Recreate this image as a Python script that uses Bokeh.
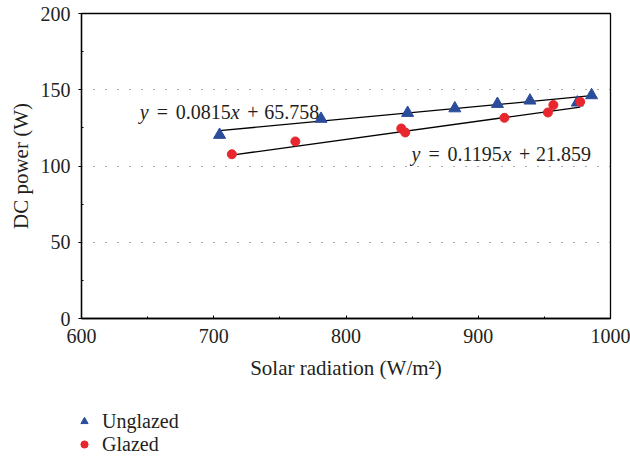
from bokeh.plotting import figure
from bokeh.layouts import column
from bokeh.models import Range1d, FixedTicker, Label, Legend, LegendItem
from bokeh.embed import file_html
from bokeh.resources import INLINE
import numpy as np

# ---- data ----
unglazed_x = [704.4, 781.1, 846.6, 882.3, 914.5, 939.1, 974.9, 985.7]
unglazed_y = [120.4, 130.9, 134.8, 137.8, 140.7, 142.9, 141.6, 146.4]
glazed_x = [713.7, 761.7, 841.8, 844.8, 919.8, 952.7, 956.8, 977.1]
glazed_y = [107.7, 116.1, 124.6, 122.0, 131.6, 135.1, 140.0, 142.1]

unglazed_fit = (0.0815, 65.758)
glazed_fit = (0.1195, 21.859)

x_ticks = [600, 700, 800, 900, 1000]
x_minor = [650, 750, 850, 950]
y_ticks = [0, 50, 100, 150, 200]
y_minor = [25, 75, 125, 175]

FONT = "Liberation Serif"
BLUE = "#2B4C9B"
RED = "#E8262D"
TXT = "#231f20"

p = figure(width=630, height=400, output_backend="svg", toolbar_location=None,
           x_range=Range1d(600, 1000), y_range=Range1d(0, 200),
           min_border_left=81, min_border_right=20, min_border_top=13,
           min_border_bottom=82)
p.frame_align = False
p.background_fill_color = "white"
p.border_fill_color = "white"
p.outline_line_color = "black"
p.outline_line_width = 1.3

# axes
xa = p.xaxis[0]
xa.ticker = FixedTicker(ticks=x_ticks, minor_ticks=x_minor)
xa.major_tick_in = 3
xa.major_tick_out = 0
xa.minor_tick_in = 2
xa.minor_tick_out = 0
xa.axis_line_color = "black"
xa.axis_line_width = 1.3
xa.major_label_text_font = FONT
xa.major_label_text_font_size = "20px"
xa.major_label_text_color = TXT
xa.major_label_standoff = 10
xa.axis_label = "Solar radiation (W/m²)"
xa.axis_label_text_font = FONT
xa.axis_label_text_font_size = "21px"
xa.axis_label_text_font_style = "normal"
xa.axis_label_text_color = TXT
xa.axis_label_standoff = 10

ya = p.yaxis[0]
ya.ticker = FixedTicker(ticks=y_ticks, minor_ticks=y_minor)
ya.major_tick_in = 0
ya.major_tick_out = 3
ya.minor_tick_in = 2
ya.minor_tick_out = 0
ya.axis_line_color = "black"
ya.axis_line_width = 1.3
ya.major_label_text_font = FONT
ya.major_label_text_font_size = "20px"
ya.major_label_text_color = TXT
ya.major_label_standoff = 8
ya.axis_label = "DC power (W)"
ya.axis_label_text_font = FONT
ya.axis_label_text_font_size = "21px"
ya.axis_label_text_font_style = "normal"
ya.axis_label_text_color = TXT
ya.axis_label_standoff = 5

p.xgrid.visible = False
p.ygrid.grid_line_color = "#555555"
p.ygrid.grid_line_dash = "1 11"
p.ygrid.grid_line_width = 1

# trend lines
for xs, (m, b) in ((unglazed_x, unglazed_fit), (glazed_x, glazed_fit)):
    lx = np.array([min(xs), max(xs)])
    p.line(lx, m * lx + b, line_color="black", line_width=1.3)

tri_style = dict(marker="triangle", fill_color=BLUE, line_color=BLUE)
dot_style = dict(marker="circle", fill_color=RED, line_color=RED)
p.scatter(unglazed_x, unglazed_y, size=12, **tri_style)
p.scatter(glazed_x, glazed_y, size=9, **dot_style)

# equations
def equation(x0, y0, slope_txt, icpt_txt):
    pieces = [("y", 0, "italic"), ("=", 17, "normal"), (slope_txt, 36, "normal"),
              ("x", 91, "italic"), ("+", 107.5, "normal"), (icpt_txt, 124.5, "normal")]
    for txt, off, style in pieces:
        p.add_layout(Label(x=x0, y=y0, x_offset=off, text=txt,
                           text_font=FONT, text_font_size="20px",
                           text_font_style=style, text_color=TXT,
                           text_align="left", text_baseline="alphabetic"))

equation(644.0, 135.5, "0.0815", "65.758")
equation(849.6, 107.7, "0.1195", "21.859")

# legend strip below the chart (series drawn out of view, only legend shows)
leg = figure(width=630, height=56, output_backend="svg", toolbar_location=None,
             x_range=Range1d(0, 1), y_range=Range1d(0, 1),
             min_border_left=0, min_border_right=0, min_border_top=0,
             min_border_bottom=0, x_axis_location=None, y_axis_location=None)
leg.frame_align = False
leg.outline_line_color = None
leg.background_fill_color = "white"
leg.border_fill_color = "white"
leg.grid.visible = False
lr1 = leg.scatter(unglazed_x, unglazed_y, size=9, **tri_style)
lr2 = leg.scatter(glazed_x, glazed_y, size=7, **dot_style)
legend = Legend(items=[LegendItem(label="Unglazed", renderers=[lr1]),
                       LegendItem(label="Glazed", renderers=[lr2])],
                location=(75, 0.5), orientation="vertical",
                border_line_color=None, background_fill_alpha=0,
                padding=0, spacing=0, margin=0,
                label_height=20, glyph_height=18, glyph_width=18,
                label_standoff=9, label_text_font=FONT,
                label_text_font_size="20px", label_text_color=TXT)
leg.add_layout(legend)

layout = column(p, leg, spacing=0)
open("out.html", "w").write(file_html(layout, INLINE))
